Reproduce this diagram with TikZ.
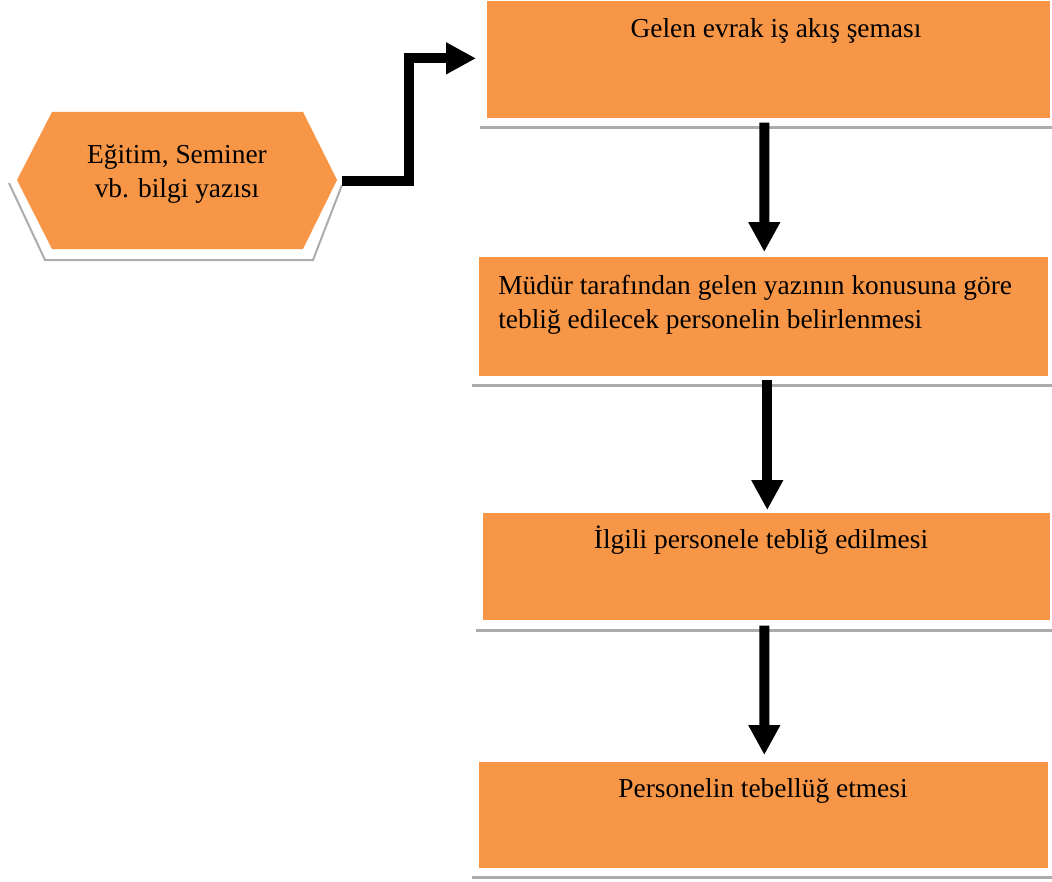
\documentclass[tikz,border=0pt]{standalone}
\usepackage{fontspec}
\setmainfont{Liberation Serif}
\usetikzlibrary{arrows.meta,calc}
\definecolor{boxorange}{HTML}{F79646}
\begin{document}
\begin{tikzpicture}[x=0.02cm,y=-0.02cm,
  stepbox/.style={fill=boxorange, draw=none, inner sep=0, anchor=north west},
  caption/.style={font=\fontsize{15.6}{19}\selectfont, inner sep=0, text=black},
  ledge/.style={draw=gray!65, line width=0.07cm},
  flow/.style={line width=0.2cm, -{Triangle[length=0.6cm,width=0.6cm]}, line join=miter}]
\useasboundingbox (0,0) rectangle (1052,882);

% start symbol (hexagon) with its thin shadow edge
\draw[gray!65, line width=0.04cm] (9,183) -- (45,260) -- (313,260) -- (342,185);
\fill[boxorange] (17,180) -- (52,112) -- (303,112) -- (337,180) -- (303,249) -- (52,249) -- cycle;
\coordinate (hexE) at (337,180);
\node[caption, anchor=base, align=center] (t0) at (177,197) {Eğitim, Seminer\\vb. bilgi yazısı};

% process boxes
\node[stepbox, minimum width=11.26cm, minimum height=2.34cm] (box1) at (487,1) {};
\node[stepbox, minimum width=11.38cm, minimum height=2.38cm] (box2) at (479,257) {};
\node[stepbox, minimum width=11.34cm, minimum height=2.14cm] (box3) at (483,513) {};
\node[stepbox, minimum width=11.38cm, minimum height=2.12cm] (box4) at (479,762) {};

% shadow edges under the boxes
\draw[ledge] ($(box1.south west)+(-7,9)$) -- ($(box1.south east)+(2,9)$);
\draw[ledge] ($(box2.south west)+(-7,9)$) -- ($(box2.south east)+(4,9)$);
\draw[ledge] ($(box3.south west)+(-7,10)$) -- ($(box3.south east)+(2,10)$);
\draw[ledge] ($(box4.south west)+(-7,9)$) -- ($(box4.south east)+(4,9)$);

% box texts
\node[caption, anchor=base] (t1) at (776,38) {Gelen evrak iş akış şeması};
\node[caption, anchor=base west, align=left] (t2) at (498,328)
  {Müdür tarafından gelen yazının konusuna göre\\tebliğ edilecek personelin belirlenmesi};
\node[caption, anchor=base] (t3) at (761,548) {İlgili personele tebliğ edilmesi};
\node[caption, anchor=base] (t4) at (763,797) {Personelin tebellüğ etmesi};

% connectors
\draw[flow] ($(hexE)+(5,1)$) -- ++(66.5,0) |- ($(box1.west)+(-11,-1.5)$);
\draw[flow] ($(box1.south)+(-4.5,4)$) -- ($(box2.north)+(0.5,-5)$);
\draw[flow] ($(box2.south)+(3.5,3)$) -- ($(box3.north)+(0.5,-3)$);
\draw[flow] ($(box3.south)+(-2.5,5)$) -- ($(box4.north)+(0.5,-7)$);
\end{tikzpicture}
\end{document}
